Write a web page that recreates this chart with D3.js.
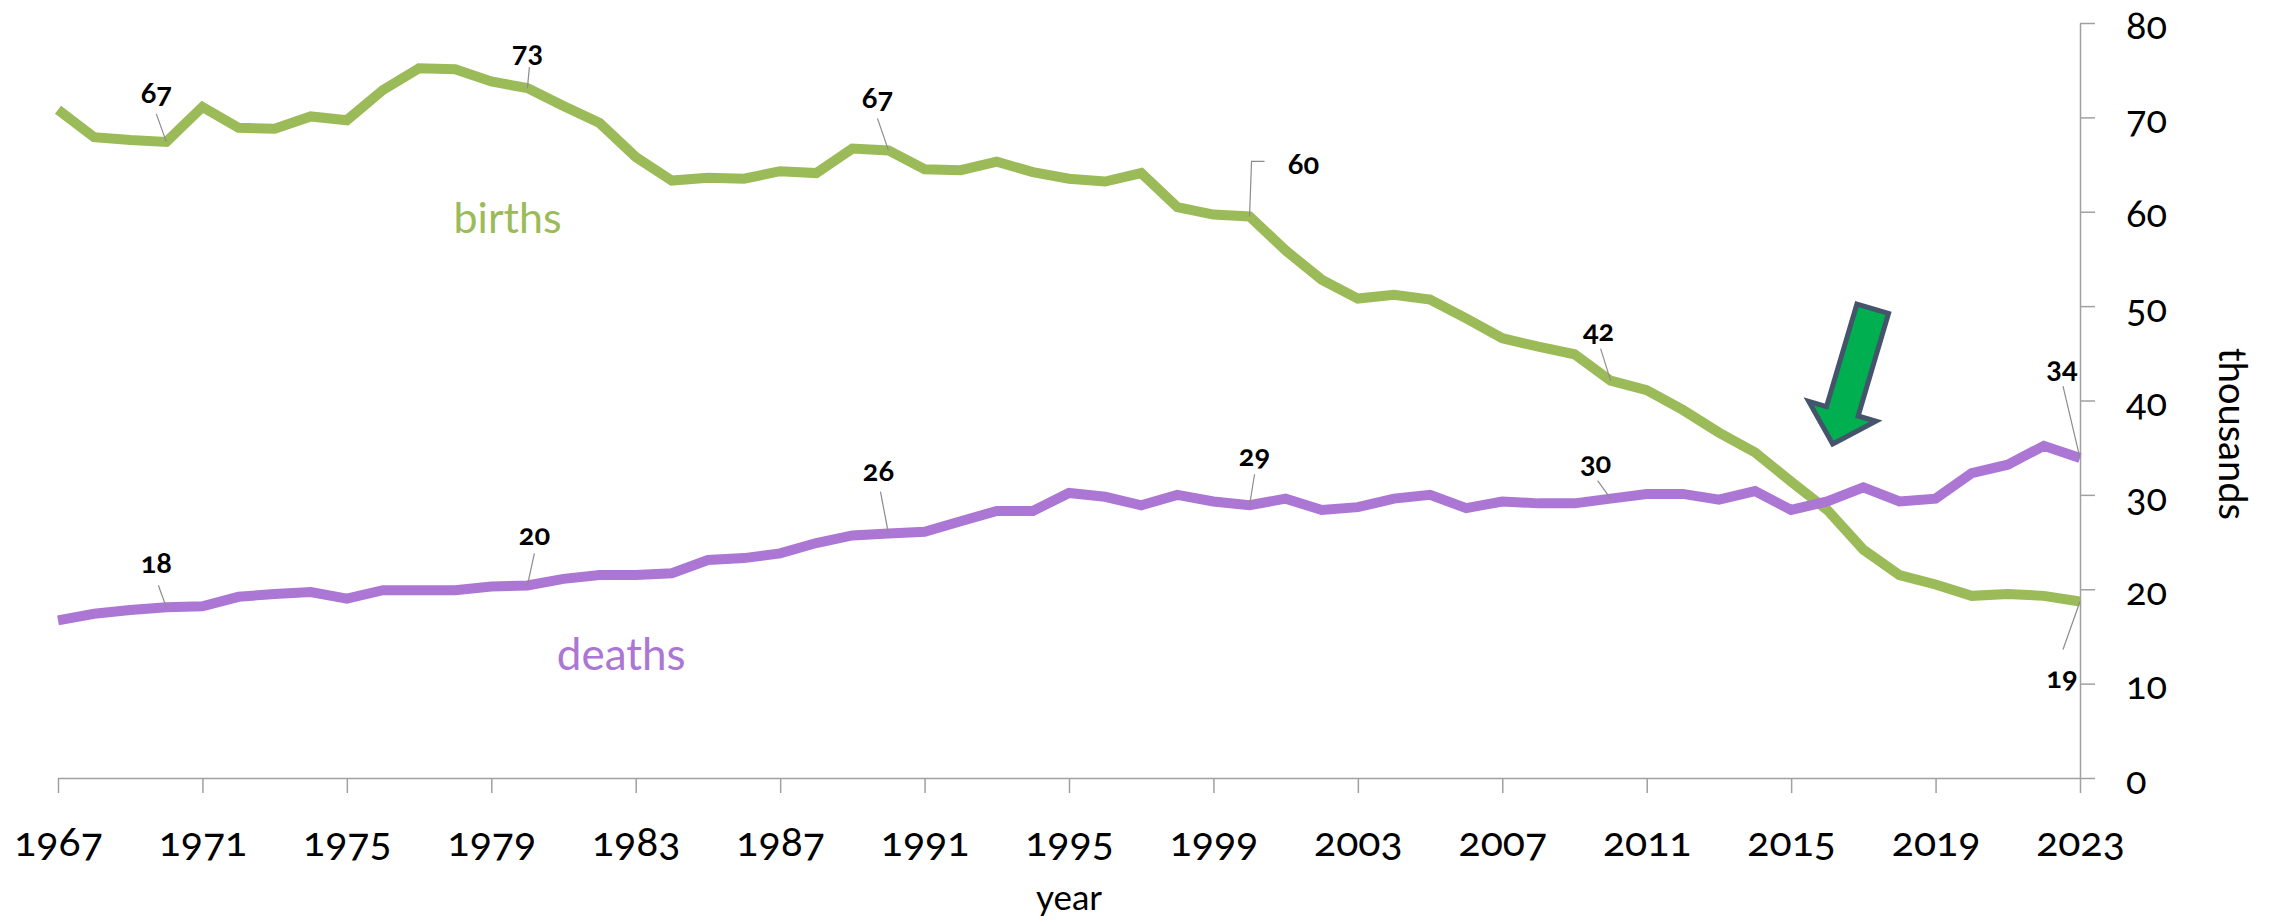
<!DOCTYPE html>
<html>
<head>
<meta charset="utf-8">
<script src="https://cdn.jsdelivr.net/npm/d3@7"></script>
<style>
    body { margin: 0; background: #fff; }
    #chart { width: 2272px; height: 921px; }
    text { font-family: Lato, 'Open Sans', sans-serif; font-variant-numeric: oldstyle-nums; }
    .axis path, .axis line { stroke: #a0a0a0; stroke-width: 1.5; }
    .axis text { fill: #000; }
</style>
</head>
<body>
<div id="chart"></div>
<script>
/* globals d3 */

// Data (thousands)
var years = d3.range(1967, 2024);
var births = [
    70.8, 67.9, 67.6, 67.4, 71.1, 68.9, 68.8, 70.1, 69.7, 72.9,
    75.2, 75.1, 73.8, 73.1, 71.2, 69.4, 65.8, 63.3, 63.6, 63.5,
    64.3, 64.1, 66.7, 66.5, 64.5, 64.4, 65.3, 64.2, 63.5, 63.2,
    64.1, 60.5, 59.7, 59.5, 55.9, 52.8, 50.8, 51.2, 50.7, 48.7,
    46.6, 45.7, 44.9, 42.1, 41.1, 39.0, 36.6, 34.5, 31.4, 28.4,
    24.2, 21.5, 20.5, 19.3, 19.5, 19.3, 18.7
];
var deaths = [
    16.7, 17.4, 17.8, 18.1, 18.2, 19.2, 19.5, 19.7, 19.0, 19.9,
    19.9, 19.9, 20.3, 20.4, 21.1, 21.5, 21.5, 21.7, 23.1, 23.3,
    23.8, 24.9, 25.7, 25.9, 26.1, 27.2, 28.3, 28.3, 30.2, 29.8,
    28.9, 30.0, 29.3, 28.9, 29.6, 28.4, 28.7, 29.6, 30.0, 28.6,
    29.3, 29.1, 29.1, 29.6, 30.1, 30.1, 29.5, 30.4, 28.4, 29.3,
    30.8, 29.3, 29.6, 32.3, 33.2, 35.2, 33.9
];
var xTicks = d3.range(1967, 2024, 4);
var yTicks = [0, 10, 20, 30, 40, 50, 60, 70, 80];

// Colours
var colors = {births: '#9bbb59', deaths: '#ab76d4'};

// Value callouts: year, shown text, label offset and leader start from the point
var callouts = [
    {series: 'births', year: 1970, text: '67', dx: -10, dy: -49, leader: [[-10, -28]]},
    {series: 'births', year: 1980, text: '73', dx: 0, dy: -36, leader: [[2, -21]]},
    {series: 'births', year: 1990, text: '67', dx: -11, dy: -53, leader: [[-11, -32]]},
    {series: 'births', year: 2000, text: '60', dx: 54, dy: -53, leader: [[15, -55], [2, -55]]},
    {series: 'births', year: 2010, text: '42', dx: -12, dy: -50, leader: [[-10, -32]]},
    {series: 'births', year: 2023, text: '19', dx: -18, dy: 76, leader: [[-17, 48]]},
    {series: 'deaths', year: 1970, text: '18', dx: -10, dy: -44, leader: [[-8, -22]]},
    {series: 'deaths', year: 1980, text: '20', dx: 7, dy: -51, leader: [[7, -32]]},
    {series: 'deaths', year: 1990, text: '26', dx: -10, dy: -63, leader: [[-8, -42]]},
    {series: 'deaths', year: 2000, text: '29', dx: 5, dy: -49, leader: [[5, -31]]},
    {series: 'deaths', year: 2010, text: '30', dx: -15, dy: -36, leader: [[-13, -18]]},
    {series: 'deaths', year: 2023, text: '34', dx: -18, dy: -90, leader: [[-17, -72]]}
];

var width = 2272, height = 921;
var margin = {top: 23, right: 192, bottom: 143, left: 58};

var x = d3.scaleLinear().domain([1967, 2023]).range([margin.left, width - margin.right]);
var y = d3.scaleLinear().domain([0, 80]).range([height - margin.bottom, margin.top]);

var svg = d3.select('#chart').append('svg')
    .attr('width', width)
    .attr('height', height);

// Axes
var xAxis = d3.axisBottom(x)
    .tickValues(xTicks)
    .tickFormat(d3.format('d'))
    .tickSize(15)
    .tickSizeOuter(0)
    .tickPadding(34);

var yAxis = d3.axisRight(y)
    .tickValues(yTicks)
    .tickSize(15)
    .tickSizeOuter(0)
    .tickPadding(31);

svg.append('g')
    .attr('class', 'x axis')
    .attr('transform', 'translate(0,' + y(0) + ')')
    .call(xAxis)
    .selectAll('text')
    .attr('font-size', '41px');

svg.append('g')
    .attr('class', 'y axis')
    .attr('transform', 'translate(' + x(2023) + ',0)')
    .call(yAxis)
    .selectAll('text')
    .attr('font-size', '38px')
    .attr('dy', '0.4em');

svg.selectAll('.axis .domain').attr('fill', 'none');

// Axis titles
svg.append('text')
    .attr('x', 1069)
    .attr('y', 910)
    .attr('text-anchor', 'middle')
    .attr('font-size', '35px')
    .text('year');

svg.append('text')
    .attr('transform', 'translate(2219,434) rotate(90)')
    .attr('text-anchor', 'middle')
    .attr('font-size', '38px')
    .text('thousands');

// Lines
var line = d3.line()
    .x(function(d) { return x(d[0]); })
    .y(function(d) { return y(d[1]); });

var series = {births: births, deaths: deaths};

['births', 'deaths'].forEach(function(name) {
    svg.append('path')
        .datum(d3.zip(years, series[name]))
        .attr('fill', 'none')
        .attr('stroke', colors[name])
        .attr('stroke-width', 10)
        .attr('stroke-linejoin', 'miter')
        .attr('d', line);
});

// Series names
svg.append('text')
    .attr('x', x(1979.45))
    .attr('y', y(57.7))
    .attr('text-anchor', 'middle')
    .attr('font-size', '43px')
    .attr('fill', colors.births)
    .text('births');

svg.append('text')
    .attr('x', x(1982.6))
    .attr('y', y(11.4))
    .attr('text-anchor', 'middle')
    .attr('font-size', '44px')
    .attr('fill', colors.deaths)
    .text('deaths');

// Callouts with leader lines
callouts.forEach(function(c) {
    var v = series[c.series][years.indexOf(c.year)];
    var px = x(c.year), py = y(v);
    var pts = c.leader.map(function(p) { return [px + p[0], py + p[1]]; });
    pts.push([px, py]);
    svg.append('path')
        .attr('d', d3.line()(pts))
        .attr('fill', 'none')
        .attr('stroke', '#8c8c8c')
        .attr('stroke-width', 1.2);
    svg.append('text')
        .attr('x', px + c.dx)
        .attr('y', py + c.dy)
        .attr('dy', '0.35em')
        .attr('text-anchor', 'middle')
        .attr('font-size', '29px')
        .attr('font-weight', 'bold')
        .text(c.text);
});

// Arrow marking the crossover
var arrowTip = [x(2016.15), y(35.4)];
var arrowShape = [[0, 0], [35, -34], [16.5, -34], [16.5, -141], [-16.5, -141], [-16.5, -34], [-35, -34]];
svg.append('polygon')
    .attr('points', arrowShape.map(function(p) { return p.join(','); }).join(' '))
    .attr('transform', 'translate(' + arrowTip[0] + ',' + arrowTip[1] + ') rotate(16.5)')
    .attr('fill', '#00b050')
    .attr('stroke', '#44546a')
    .attr('stroke-width', 5)
    .attr('stroke-linejoin', 'miter');
</script>
</body>
</html>
